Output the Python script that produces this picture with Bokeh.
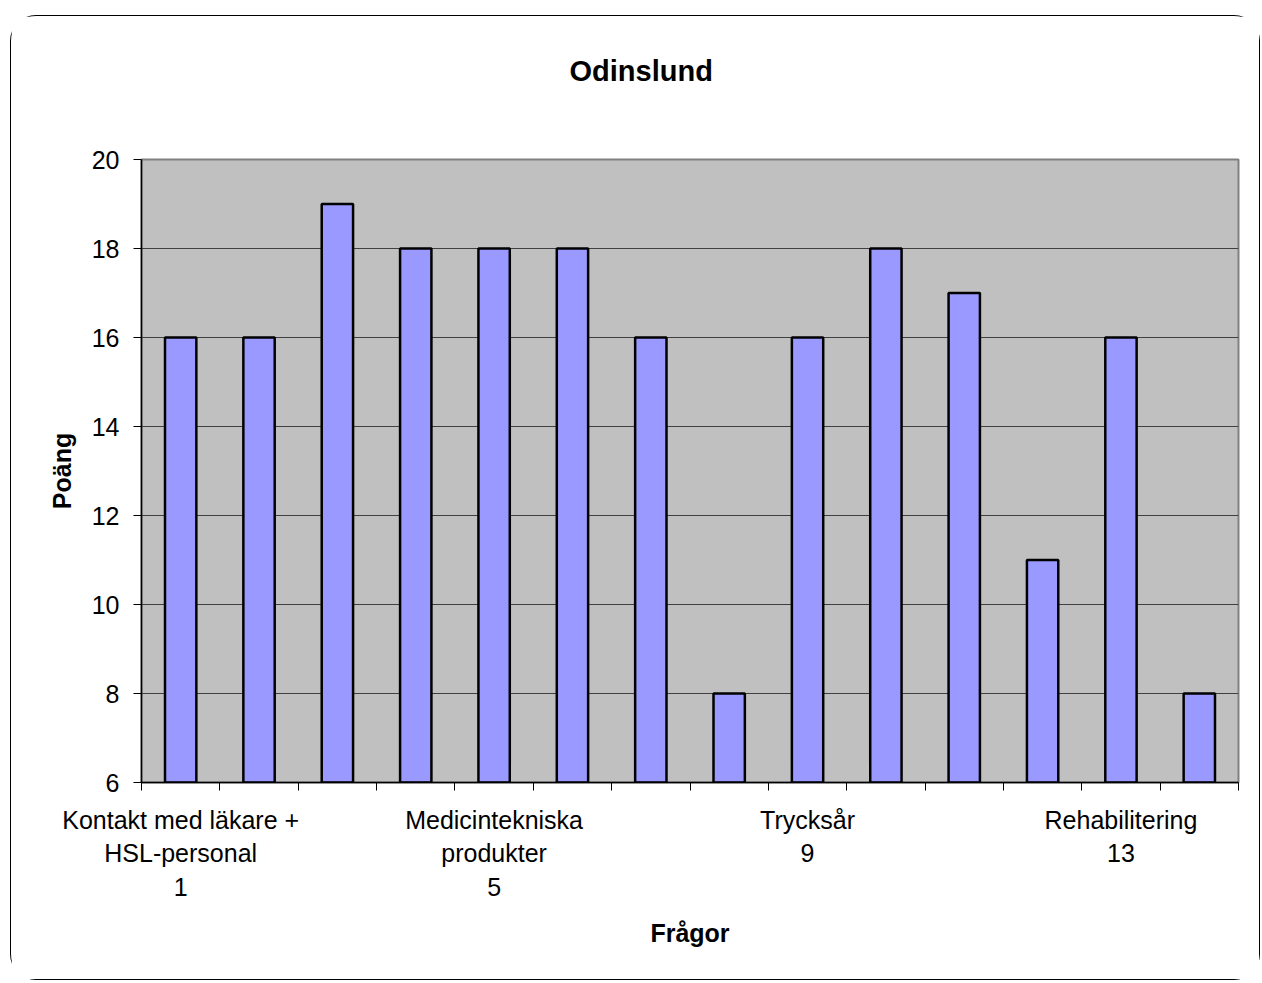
from bokeh.plotting import figure
from bokeh.models import FixedTicker, Range1d, ColumnDataSource, Title
from bokeh.embed import file_html
from bokeh.resources import INLINE

# ---- data ----
questions = list(range(1, 15))
scores = [16, 16, 19, 18, 18, 18, 16, 8, 16, 18, 17, 11, 16, 8]
label_positions = [1, 5, 9, 13]
label_texts = [
    "Kontakt med läkare +\nHSL-personal\n1",
    "Medicintekniska\nprodukter\n5",
    "Trycksår\n9",
    "Rehabilitering\n13",
]
y_ticks = [6, 8, 10, 12, 14, 16, 18, 20]
title_text = "Odinslund"
x_title = "Frågor"
y_title = "Poäng"

FONT = "Liberation Sans"
Y_MIN, Y_MAX = 6, 20

p = figure(
    width=1250, height=965,
    output_backend="svg", toolbar_location=None,
    x_range=Range1d(0.5, len(questions) + 0.5),
    y_range=Range1d(Y_MIN, Y_MAX),
    min_border_left=130, min_border_right=23,
    min_border_top=143, min_border_bottom=199,
    background_fill_color="#C0C0C0",
    border_fill_color="white",
    outline_line_color="#808080", outline_line_width=2,
)

p.styles = {"border": "1px solid black", "border-radius": "26px",
            "margin-left": "10px", "margin-top": "15px"}

p.title.text = ""
p.title.standoff = 0

# spacer between frame and title, then the real title
spacer = Title(text=" ", text_font_size="1px", standoff=65)
p.add_layout(spacer, "above")
main_title = Title(text=title_text, text_font=FONT, text_font_size="29px",
                   text_font_style="bold", text_color="black",
                   align="left", offset=428)
p.add_layout(main_title, "above")

src = ColumnDataSource(dict(x=questions, top=scores))
p.vbar(x="x", top="top", bottom=Y_MIN, width=0.4, source=src,
       fill_color="#9999FF", line_color="black", line_width=2.5)

# x axis
xa = p.xaxis[0]
xa.ticker = FixedTicker(ticks=label_positions,
                        minor_ticks=[q - 0.5 for q in questions] + [questions[-1] + 0.5])
xa.major_label_overrides = {pos: txt for pos, txt in zip(label_positions, label_texts)}
xa.major_tick_out = 0
xa.major_tick_in = 0
xa.minor_tick_out = 8
xa.minor_tick_in = 0
xa.minor_tick_line_color = "black"
xa.axis_line_color = "black"
xa.axis_line_width = 1.5
xa.major_label_standoff = 15
xa.major_label_text_font = FONT
xa.major_label_text_font_size = "25px"
xa.major_label_text_color = "black"
xa.axis_label = x_title
xa.axis_label_text_font = FONT
xa.axis_label_text_font_size = "25px"
xa.axis_label_text_font_style = "bold"
xa.axis_label_text_color = "black"
xa.axis_label_standoff = 15

# y axis
ya = p.yaxis[0]
ya.ticker = FixedTicker(ticks=y_ticks)
ya.major_tick_out = 8
ya.major_tick_in = 0
ya.minor_tick_out = 0
ya.minor_tick_in = 0
ya.axis_line_color = "black"
ya.axis_line_width = 1.5
ya.major_label_standoff = 14
ya.major_label_text_font = FONT
ya.major_label_text_font_size = "25px"
ya.major_label_text_color = "black"
ya.axis_label = y_title
ya.axis_label_text_font = FONT
ya.axis_label_text_font_size = "25px"
ya.axis_label_text_font_style = "bold"
ya.axis_label_text_color = "black"
ya.axis_label_standoff = 13

p.xgrid.grid_line_color = None
p.ygrid.grid_line_color = "#404040"
p.ygrid.grid_line_width = 1

open("out.html", "w").write(file_html(p, INLINE))
